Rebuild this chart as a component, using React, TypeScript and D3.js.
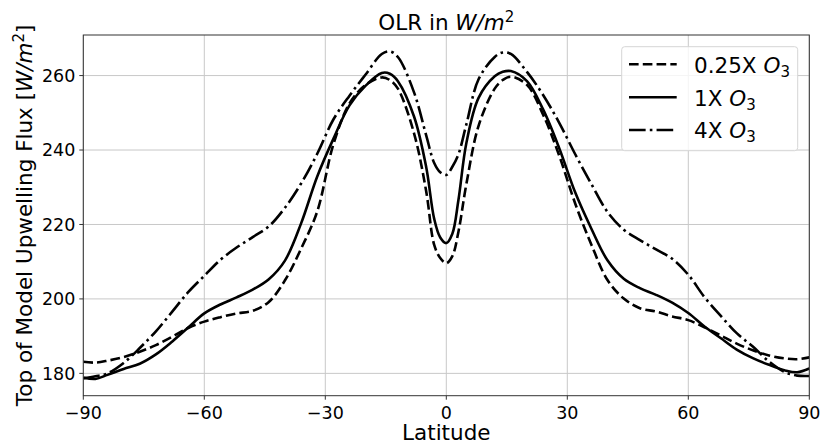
import React from "react";
import * as d3 from "d3";

const latitudes = [-90,-87,-84,-80,-76,-72,-68,-64,-60,-56,-52,-48,-44,-40,-36,-32,-28,-24,-20,-16,-14,-12,-8,-5,-3,-1.5,0,1.5,3,5,8,12,14,16,20,24,28,32,36,40,44,48,52,56,60,64,68,72,76,80,84,87,90];

const olrQuarter = [183.1,182.9,183.4,184.4,185.8,187.6,189.8,192.2,193.9,195.1,196.1,196.8,199.2,205,213.5,223.5,241.5,252.5,257.5,259.5,258.8,256.5,244.5,229,214.5,211,209.6,211.5,218,231,246.5,256.5,258.8,259.7,257.5,249.5,238.5,225.5,214.5,205,200.1,197.5,196.6,195.3,194.3,192.4,190.2,188,186.2,184.8,184,183.8,184.3];

const olrOne = [178.9,178.5,179.6,181.2,182.6,185.1,188.5,192.3,196.1,198.5,200.4,202.5,205.3,210.3,220.3,232.9,243,252,257.3,260.7,260.5,258.5,249,235.5,221.5,216.5,215,217.5,226.5,242,254,259.8,261,261.2,258.5,250.9,240.5,228.5,218.8,210.3,205.4,202.9,201.1,199,196.2,192.6,189.5,186.4,184.1,182.3,180.8,180.3,181.3];

const olrFour = [178.6,179.2,180,182.8,186.8,191.3,196.5,201.8,206.2,210.5,213.8,216.6,219.5,224.5,231,239,248.2,254.6,260.3,265.8,266.5,265,255.5,244,236.5,234,233.3,235.5,238.8,247,259,265,266.2,265.8,261,254.8,247.3,238.8,230.8,223.3,218.6,215.8,213.3,210.8,206.5,200.5,195.5,190.8,187.2,183.2,180.3,179.4,179.3];

const xTicks = [-90, -60, -30, 0, 30, 60, 90];
const yTicks = [180, 200, 220, 240, 260];
const seriesLabels = ["0.25X", "1X", "4X"];

const W = 820, H = 443;
const left = 83.3, right = 809.3, top = 35, bottom = 395.7;
const FONT = "DejaVu Sans, sans-serif";
const LW = 2.6;
const dashes = [`${3.7 * LW},${1.6 * LW}`, "", `${6.4 * LW},${1.6 * LW},${1 * LW},${1.6 * LW}`];

export default function App() {
  const x = d3.scaleLinear().domain([-90, 90]).range([left, right]);
  const y = d3.scaleLinear().domain([174.0, 270.9]).range([bottom, top]);
  const series = [olrQuarter, olrOne, olrFour];
  const line = d3.line<number>()
    .x((_, i) => x(latitudes[i]))
    .y((d) => y(d))
    .curve(d3.curveCatmullRom.alpha(0.5));

  const legX = 621.7, legY = 46.7, legW = 176, legH = 104;
  const rowY = [64.3, 97.3, 130];

  return (
    <svg width={W} height={H} style={{ position: "absolute", left: 0, top: 0 }} fontFamily={FONT}>
      <rect width={W} height={H} fill="#fff" />
      <defs>
        <clipPath id="plot">
          <rect x={left} y={top} width={right - left} height={bottom - top} />
        </clipPath>
      </defs>
      {xTicks.map((t) => (
        <line key={"gx" + t} x1={x(t)} x2={x(t)} y1={top} y2={bottom} stroke="#c8c8c8" strokeWidth={1} />
      ))}
      {yTicks.map((t) => (
        <line key={"gy" + t} x1={left} x2={right} y1={y(t)} y2={y(t)} stroke="#c8c8c8" strokeWidth={1} />
      ))}
      <g clipPath="url(#plot)">
        {series.map((s, i) => (
          <path key={i} d={line(s) || ""} fill="none" stroke="#000" strokeWidth={LW}
            strokeDasharray={dashes[i] || undefined} strokeLinejoin="round" />
        ))}
      </g>
      <rect x={left} y={top} width={right - left} height={bottom - top} fill="none" stroke="#333" strokeWidth={1} />
      {xTicks.map((t) => (
        <g key={"xt" + t}>
          <line x1={x(t)} x2={x(t)} y1={bottom} y2={bottom + 4} stroke="#333" strokeWidth={1} />
          <text x={x(t)} y={419.3} fontSize={17.5} textAnchor="middle" fill="#000">
            {t < 0 ? "\u2212" + Math.abs(t) : String(t)}
          </text>
        </g>
      ))}
      {yTicks.map((t) => (
        <g key={"yt" + t}>
          <line x1={left - 4} x2={left} y1={y(t)} y2={y(t)} stroke="#333" strokeWidth={1} />
          <text x={left - 8} y={y(t) + 6.4} fontSize={17.5} textAnchor="end" fill="#000">{t}</text>
        </g>
      ))}
      <text x={(left + right) / 2} y={30} fontSize={21.5} textAnchor="middle" fill="#000">
        OLR in <tspan fontStyle="italic">W/m</tspan>
        <tspan fontSize={15} dy={-8}>2</tspan>
      </text>
      <text x={(left + right) / 2} y={440} fontSize={21.5} textAnchor="middle" fill="#000">Latitude</text>
      <text transform={`translate(32,${(top + bottom) / 2}) rotate(-90)`} fontSize={21.5} textAnchor="middle" fill="#000">
        Top of Model Upwelling Flux [<tspan fontStyle="italic">W/m</tspan>
        <tspan fontSize={15} dy={-8}>2</tspan>
        <tspan dy={8}>]</tspan>
      </text>
      <rect x={legX} y={legY} width={legW} height={legH} rx={3} ry={3} fill="#fff" fillOpacity={0.8} stroke="#d6d6d6" strokeWidth={1} />
      {seriesLabels.map((lab, i) => (
        <g key={"lg" + i}>
          <line x1={629} x2={676.7} y1={rowY[i]} y2={rowY[i]} stroke="#000" strokeWidth={LW} strokeDasharray={dashes[i] || undefined} />
          <text x={694} y={rowY[i] + 8.2} fontSize={21.5} fill="#000">
            {lab} <tspan fontStyle="italic">O</tspan>
            <tspan fontSize={15} dy={4}>3</tspan>
          </text>
        </g>
      ))}
    </svg>
  );
}
